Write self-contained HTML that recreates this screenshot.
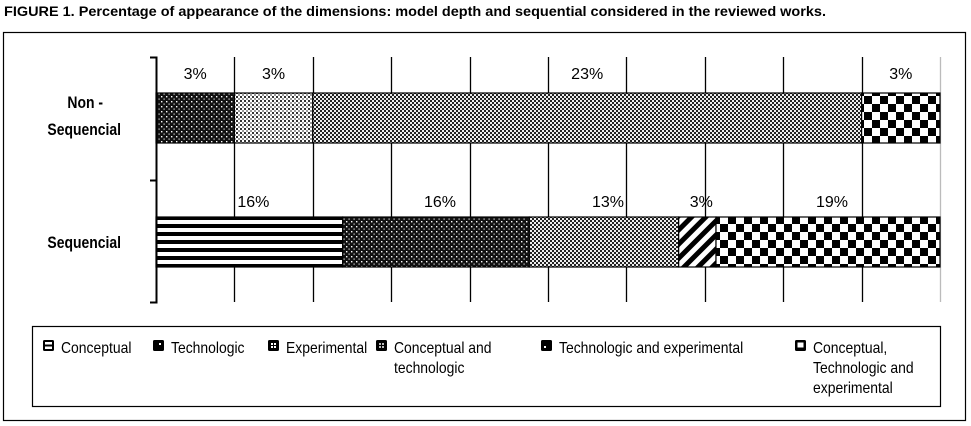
<!DOCTYPE html>
<html><head><meta charset="utf-8"><style>
html,body{margin:0;padding:0;background:#fff;width:971px;height:426px;overflow:hidden}
svg{display:block}
</style></head><body>
<svg id="chart" width="971" height="426" viewBox="0 0 971 426" font-family="Liberation Sans, sans-serif">
<defs>
<pattern id="p-conc" width="8" height="8" patternUnits="userSpaceOnUse"><rect width="8" height="8" fill="#fff"/><rect y="0" width="8" height="4" fill="#000"/></pattern>
<pattern id="p-tech" width="5" height="5" patternUnits="userSpaceOnUse"><rect width="5" height="5" fill="#111"/><rect x="1" y="1" width="1.4" height="1.4" fill="#fff"/><rect x="3.5" y="3.5" width="1.2" height="1.2" fill="#ddd"/></pattern>
<pattern id="p-exp" width="4" height="4" patternUnits="userSpaceOnUse"><rect width="4" height="4" fill="#fff"/><rect width="2" height="2" fill="#333"/><rect x="2" y="2" width="2" height="2" fill="#333" opacity="0.5"/></pattern>
<pattern id="p-ct" width="4" height="4" patternUnits="userSpaceOnUse"><rect width="4" height="4" fill="#222"/><rect width="2" height="2" fill="#eee"/><rect x="2" y="2" width="2" height="2" fill="#eee"/></pattern>
<pattern id="p-te" width="10" height="10" patternUnits="userSpaceOnUse" patternTransform="rotate(45)"><rect width="10" height="10" fill="#fff"/><rect width="5" height="10" fill="#000"/></pattern>
<pattern id="p-cte" width="16" height="16" patternUnits="userSpaceOnUse"><rect width="16" height="16" fill="#fff"/><rect x="0" y="0" width="8" height="8" fill="#000"/><rect x="8" y="8" width="8" height="8" fill="#000"/></pattern>
</defs>
<text id="title" x="4" y="16" font-weight="bold" font-size="13.5">FIGURE 1. Percentage of appearance of the dimensions:  model depth and sequential considered in the reviewed works.</text>
<rect x="3.5" y="32.5" width="962" height="388" fill="none" stroke="#000" stroke-width="1.2"/>
<g id="grid"></g>
<g id="bars"></g>
<g id="labels"></g>
<g id="axis"></g>
<rect x="32.5" y="326.5" width="908" height="80" fill="none" stroke="#000" stroke-width="1.2"/>
<g id="legend" font-size="16"></g>
</svg>
<script>
const categories = ["Non - Sequencial", "Sequencial"];
const seriesNames = ["Conceptual","Technologic","Experimental","Conceptual and technologic","Technologic and experimental","Conceptual, Technologic and experimental"];
const nonSeqCounts = [0, 1, 1, 7, 0, 1];
const seqCounts = [5, 5, 0, 4, 1, 6];
const nonSeqLabels = ["", "3%", "3%", "23%", "", "3%"];
const seqLabels = ["16%", "16%", "", "13%", "3%", "19%"];
const gridTicks = [0,10,20,30,40,50,60,70,80,90,100];

const NS="http://www.w3.org/2000/svg";
const fills=["url(#p-conc)","url(#p-tech)","url(#p-exp)","url(#p-ct)","url(#p-te)","url(#p-cte)"];
const x0=156,x1=940,plotTop=57,plotBot=302;
const xs=p=>x0+(x1-x0)*p/100;
const rowY=[93,217],barH=50;
function mk(tag,attrs,parent){const e=document.createElementNS(NS,tag);for(const k in attrs)e.setAttribute(k,attrs[k]);parent.appendChild(e);return e;}
function squeeze(e,f){const w=e.getComputedTextLength();e.setAttribute('textLength',w*f);e.setAttribute('lengthAdjust','spacingAndGlyphs');}
const grid=document.getElementById('grid'),bars=document.getElementById('bars'),labels=document.getElementById('labels'),axis=document.getElementById('axis'),legend=document.getElementById('legend');
const title=document.getElementById('title');
title.setAttribute('textLength',822);title.setAttribute('lengthAdjust','spacingAndGlyphs');
gridTicks.forEach((t,i)=>{if(i===0)return;const x=Math.round(xs(t))+0.5;
const l=mk('line',{x1:x,x2:x,y1:plotTop,y2:plotBot,stroke:i===10?'#bbb':'#000','stroke-width':1.3},grid);

});
[nonSeqCounts,seqCounts].forEach((counts,r)=>{
 const tot=counts.reduce((a,b)=>a+b,0);let acc=0;
 const labs=r===0?nonSeqLabels:seqLabels;
 counts.forEach((c,i)=>{if(!c)return;
  const xa=xs(acc/tot*100),xb=xs((acc+c)/tot*100);acc+=c;
  const rc=mk('rect',{x:xa,y:rowY[r],width:xb-xa,height:barH,fill:fills[i],stroke:'#000','stroke-width':1.2},bars);
  
  
  const tx=mk('text',{x:(xa+xb)/2+(r===1?4:0),y:rowY[r]-(r===0?14:10),'text-anchor':'middle','font-size':16},labels);
  tx.textContent=labs[i];
  
  
 });
});
const ax=mk('path',{d:`M150 ${plotTop}.5 H156.5 V${plotBot}.5 H150 M150 180.5 H156.5`,fill:'none',stroke:'#000','stroke-width':2},axis);


const ylab=[[["Non -",108,103],["Sequencial",135,121]],[["Sequencial",248,121]]];
ylab.forEach((lines,r)=>lines.forEach(([t,y,xe])=>{const e=mk('text',{x:xe,y:y,'text-anchor':'end','font-weight':'bold','font-size':17},axis);
 e.textContent=t;
 
 
 squeeze(e,0.82);}));
const legX=[43,153,268,376,541,795];
const legLines=[["Conceptual"],["Technologic"],["Experimental"],["Conceptual and","technologic"],["Technologic and experimental"],["Conceptual,","Technologic and","experimental"]];
legLines.forEach((lines,i)=>{
 const g=mk('g',{},legend);
 
 
 mk('rect',{x:legX[i],y:340,width:11,height:11,fill:'#000',rx:1.5},g);
 if(i===0){mk('rect',{x:legX[i]+2,y:342,width:7,height:2.5,fill:'#fff'},g);mk('rect',{x:legX[i]+2,y:346.5,width:7,height:2.5,fill:'#fff'},g);}
 else if(i===1){mk('rect',{x:legX[i]+6,y:343,width:2,height:2,fill:'#fff'},g);}
 else if(i===2||i===3){[[3,3],[6,3],[3,6],[6,6]].forEach(([a,b])=>mk('rect',{x:legX[i]+a,y:340+b,width:2,height:2,fill:i===2?'#fff':'#bbb'},g));}
 else if(i===4){mk('rect',{x:legX[i]+3,y:346,width:2,height:2,fill:'#fff'},g);}
 else {mk('rect',{x:legX[i]+2.5,y:342.5,width:6,height:5,fill:'#fff'},g);}
 lines.forEach((t,j)=>{const e=mk('text',{x:legX[i]+18,y:353+j*20},g);e.textContent=t;squeeze(e,0.87);});
});
</script>
</body></html>
